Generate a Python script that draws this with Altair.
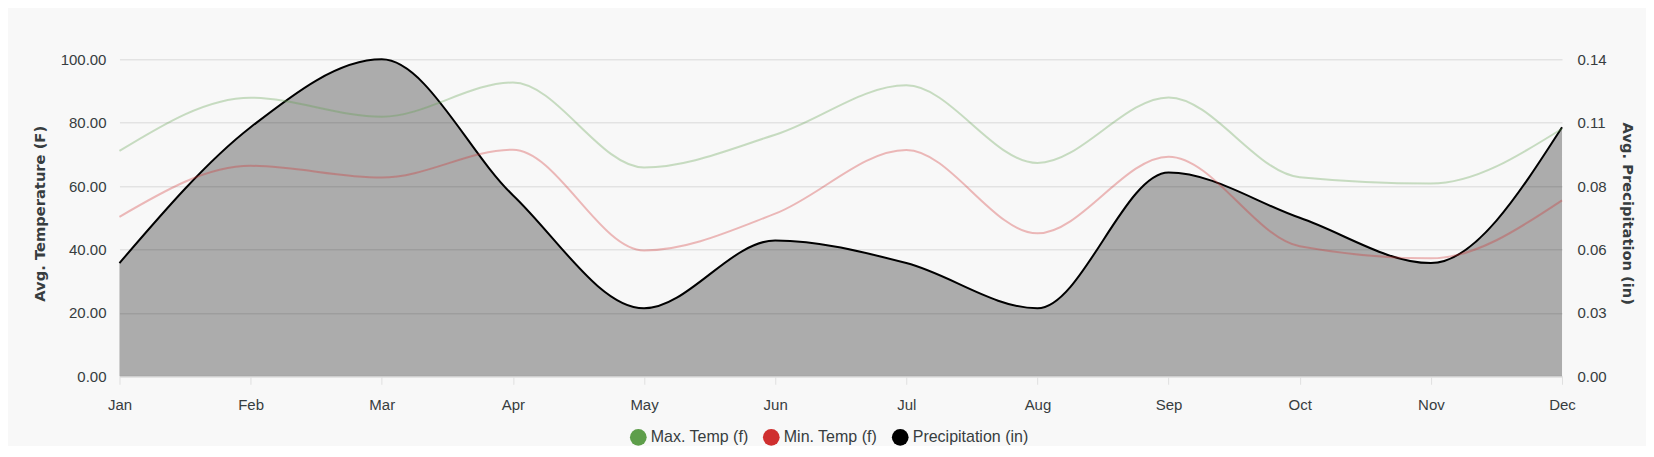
import altair as alt
import pandas as pd

months = ["Jan", "Feb", "Mar", "Apr", "May", "Jun", "Jul", "Aug", "Sep", "Oct", "Nov", "Dec"]
max_temp = [71.1, 87.9, 81.9, 92.7, 65.9, 76.2, 91.8, 67.3, 88.0, 62.8, 60.8, 78.1]
min_temp = [50.3, 66.4, 62.7, 71.5, 39.7, 51.3, 71.4, 45.1, 69.3, 41.0, 37.2, 55.5]
precip = [0.05, 0.11, 0.14, 0.08, 0.03, 0.06, 0.05, 0.03, 0.09, 0.07, 0.05, 0.11]

series_names = ["Max. Temp (f)", "Min. Temp (f)", "Precipitation (in)"]
series_colors = ["#5e9e4a", "#cf2f2f", "#000000"]
temp_ticks = [0, 20, 40, 60, 80, 100]
precip_ticks = [0, 0.028, 0.056, 0.084, 0.112, 0.14]

temp_df = pd.DataFrame({"month": months, "max_temp": max_temp, "min_temp": min_temp})
precip_df = pd.DataFrame({"month": months, "precip": precip})
legend_df = pd.DataFrame({"series": series_names})

TXT = "#373d3f"
LABEL_FONT = "Liberation Sans"
TITLE_SIZE = 14.7

x_enc = alt.X(
    "month:N",
    sort=months,
    scale=alt.Scale(type="point", padding=0),
    axis=alt.Axis(
        title=None, labelAngle=0, labelFontSize=15, labelFont=LABEL_FONT, labelColor=TXT,
        labelPadding=13, tickColor="#e0e0e0", tickSize=8, tickWidth=1,
        domainColor="#e0e0e0", domainWidth=2, grid=False,
    ),
)


def temp_axis():
    return alt.Axis(
        orient="left", values=temp_ticks, format=".2f", grid=True, gridColor="#e3e3e3",
        gridWidth=1.5, domain=False, ticks=False, labelPadding=13.5, labelFontSize=15,
        labelFont=LABEL_FONT, labelColor=TXT, title="Avg. Temperature (F)",
        titleFont="DejaVu Sans", titleFontSize=TITLE_SIZE, titleFontWeight="bold", titleColor=TXT,
        titleAngle=270, titleX=-79, titleY=154, titleAlign="center", titleBaseline="middle",
    )


def temp_scale():
    return alt.Scale(domain=[0, 100], nice=False, zero=True)


area = alt.Chart(precip_df).mark_area(
    interpolate="monotone", color="#000000", fillOpacity=0.306,
    line={"color": "#000000", "strokeWidth": 2, "opacity": 1},
).encode(
    x=x_enc,
    y=alt.Y(
        "precip:Q",
        scale=alt.Scale(domain=[0, 0.14], nice=False, zero=True),
        axis=alt.Axis(
            orient="right", values=precip_ticks, format=".2f", grid=False, domain=False,
            ticks=False, labelPadding=15, labelFontSize=15, labelFont=LABEL_FONT,
            labelColor=TXT, title="Avg. Precipitation (in)", titleFont="DejaVu Sans",
            titleFontSize=TITLE_SIZE, titleFontWeight="bold", titleColor=TXT,
            titleAngle=90, titleX=64, titleY=154, titleAlign="center", titleBaseline="middle",
        ),
    ),
)

max_line = alt.Chart(temp_df).mark_line(
    interpolate="monotone", strokeWidth=2, strokeOpacity=0.32, color=series_colors[0],
).encode(x=x_enc, y=alt.Y("max_temp:Q", scale=temp_scale(), axis=temp_axis()))

min_line = alt.Chart(temp_df).mark_line(
    interpolate="monotone", strokeWidth=2, strokeOpacity=0.32, color=series_colors[1],
).encode(x=x_enc, y=alt.Y("min_temp:Q", scale=temp_scale(), axis=temp_axis()))

temps = alt.layer(max_line, min_line)

legend_pts = alt.Chart(legend_df).mark_point(filled=True, opacity=0, size=280).encode(
    x=alt.value(0), y=alt.value(0),
    color=alt.Color(
        "series:N", scale=alt.Scale(domain=series_names, range=series_colors),
        legend=alt.Legend(
            title=None, orient="none", legendX=510.5, legendY=369.5, direction="horizontal",
            symbolType="circle", symbolSize=280, symbolStrokeWidth=0, symbolOpacity=1,
            labelFontSize=16, labelFont=LABEL_FONT, labelColor=TXT, labelOffset=4,
        ),
    ),
)

chart = alt.layer(area, temps, legend_pts).resolve_scale(y="independent").properties(
    width=1443, height=317,
    padding={"left": 111.5, "top": 51.3, "right": 84, "bottom": 70},
    autosize=alt.AutoSizeParams(type="none"),
    background="#f8f8f8",
).configure_view(stroke=None).configure_legend(columnPadding=14, padding=0)

chart.save("out.html", embed_options={"renderer": "svg", "actions": False})
